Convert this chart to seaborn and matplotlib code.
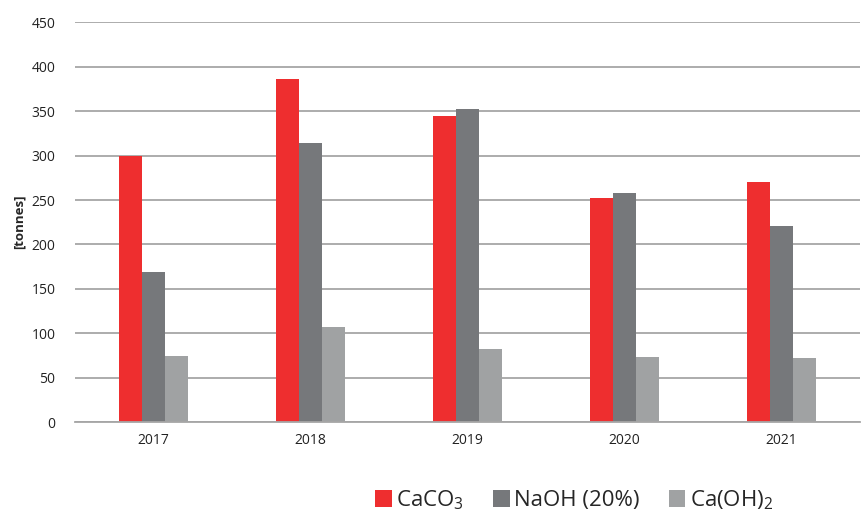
import numpy as np
import pandas as pd
import matplotlib
matplotlib.use("Agg")
import matplotlib.pyplot as plt
import seaborn as sns

# Values
years = ["2017", "2018", "2019", "2020", "2021"]
caco3 = [299, 386, 344, 252, 270]
naoh = [169, 314, 352, 258, 221]
caoh2 = [74, 107, 82, 73, 72]
series_names = ["CaCO$_3$", "NaOH (20%)", "Ca(OH)$_2$"]
colors = ["#EE2E2F", "#76787B", "#A0A2A3"]

df = pd.DataFrame({
    "year": years * 3,
    "value": caco3 + naoh + caoh2,
    "series": [series_names[0]] * 5 + [series_names[1]] * 5 + [series_names[2]] * 5,
})

sns.set_style("white")
plt.rcParams["font.family"] = ["Open Sans", "DejaVu Sans"]
plt.rcParams["mathtext.default"] = "regular"

fig = plt.figure(figsize=(8.61, 5.18), dpi=100)
ax = fig.add_axes([0.087, 0.185, 0.912, 0.772])

sns.barplot(data=df, x="year", y="value", hue="series", palette=colors,
            saturation=1, width=0.435, linewidth=0, ax=ax, legend=True)

ax.set_ylim(0, 450)
ax.set_yticks(np.arange(0, 451, 50))
ax.set_xlim(-0.5, 4.5)
ax.yaxis.grid(True, color="#A6A6A6", linewidth=1.3)
ax.set_axisbelow(True)
for s in ["top", "right", "left"]:
    ax.spines[s].set_visible(False)
ax.spines["bottom"].set_color("#A6A6A6")
ax.spines["bottom"].set_linewidth(1.3)

ax.tick_params(axis="y", length=0, labelsize=10, pad=14, labelcolor="#222222")
ax.tick_params(axis="x", which="major", length=0, labelsize=10, pad=8, labelcolor="#222222")
ax.set_xticks(np.arange(-0.5, 5, 1), minor=True)
ax.tick_params(axis="x", which="minor", length=5, color="#A6A6A6", width=1.2)

ax.set_xlabel("")
ax.set_ylabel("[tonnes]", fontsize=9.5, fontweight="bold", labelpad=4)

# legend below the plot
handles, labels = ax.get_legend_handles_labels()
ax.legend(handles, labels, loc="center", bbox_to_anchor=(0.636, -0.195),
          ncol=3, frameon=False, fontsize=16, handlelength=0.75, handleheight=0.75,
          handletextpad=0.2, columnspacing=1.3)

fig.savefig("out.png", dpi=100)
